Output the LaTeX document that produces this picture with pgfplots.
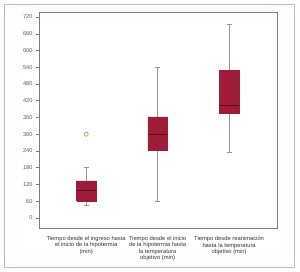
\documentclass[border=0pt]{standalone}
\usepackage{pgfplots}
\pgfplotsset{compat=1.18}
\usepackage{fontspec}
\setmainfont{Liberation Sans}
\definecolor{boxred}{RGB}{158,28,54}
\definecolor{medred}{RGB}{100,12,30}
\definecolor{whisk}{RGB}{150,150,150}
\definecolor{framepink}{RGB}{228,170,186}
\definecolor{axgray}{RGB}{120,125,125}
\definecolor{outl}{RGB}{185,165,95}
\begin{document}
\begin{tikzpicture}
\useasboundingbox (0pt,0pt) rectangle (300pt,272pt);
\draw[framepink, line width=0.8pt] (4pt,5pt) rectangle (294pt,268pt);
\begin{axis}[
  at={(39pt,44pt)}, anchor=south west,
  scale only axis, width=238pt, height=216pt,
  xmin=0.34, xmax=3.67, ymin=-36, ymax=738,
  axis line style={axgray, line width=0.6pt},
  ytick={0,60,...,720},
  ytick pos=left,
  yticklabel style={font=\fontsize{5.6}{6}\selectfont, text=black!65, xshift=0.5pt},
  /pgf/number format/assume math mode=true,
  tick align=outside, major tick length=3.5pt,
  ytick style={axgray, line width=0.5pt},
  xtick={1,2,3},
  xtick style={draw=none},
  xticklabels={{Tiempo desde el ingreso hasta\\el inicio de la hipotermia\\(min)},
    {Tiempo desde el inicio\\de la hipotermia hasta\\la temperatura\\objetivo (min)},
    {Tiempo desde reanimación\\hasta la temperatura\\objetivo (min)}},
  xticklabel style={align=center, font=\fontsize{5.8}{6.2}\selectfont, text=black!80, yshift=-1.5pt},
  clip=false,
]
% whiskers
\addplot[whisk, line width=0.6pt] coordinates {(1,47) (1,181)};
\addplot[whisk, line width=0.6pt] coordinates {(2,61) (2,541)};
\addplot[whisk, line width=0.6pt] coordinates {(3,237) (3,695)};
% caps
\addplot[whisk, line width=0.6pt] coordinates {(0.965,47) (1.035,47)};
\addplot[whisk, line width=0.6pt] coordinates {(0.965,181) (1.035,181)};
\addplot[whisk, line width=0.6pt] coordinates {(1.965,61) (2.035,61)};
\addplot[whisk, line width=0.6pt] coordinates {(1.965,541) (2.035,541)};
\addplot[whisk, line width=0.6pt] coordinates {(2.965,237) (3.035,237)};
\addplot[whisk, line width=0.6pt] coordinates {(2.965,695) (3.035,695)};
% boxes (Q1 to Q3)
\addplot[fill=boxred, draw=boxred, line width=0.5pt] coordinates {(0.865,61) (1.135,61) (1.135,133) (0.865,133) (0.865,61)};
\addplot[fill=boxred, draw=boxred, line width=0.5pt] coordinates {(1.865,244) (2.135,244) (2.135,362) (1.865,362) (1.865,244)};
\addplot[fill=boxred, draw=boxred, line width=0.5pt] coordinates {(2.865,376) (3.135,376) (3.135,530) (2.865,530) (2.865,376)};
% medians
\addplot[medred, line width=0.8pt] coordinates {(0.865,97) (1.135,97)};
\addplot[medred, line width=0.8pt] coordinates {(1.865,301) (2.135,301)};
\addplot[medred, line width=0.8pt] coordinates {(2.865,405) (3.135,405)};
% outlier
\addplot[only marks, mark=o, mark size=2pt, mark options={draw=outl, fill=white, line width=0.8pt}] coordinates {(1,300)};
\end{axis}
\end{tikzpicture}
\end{document}
